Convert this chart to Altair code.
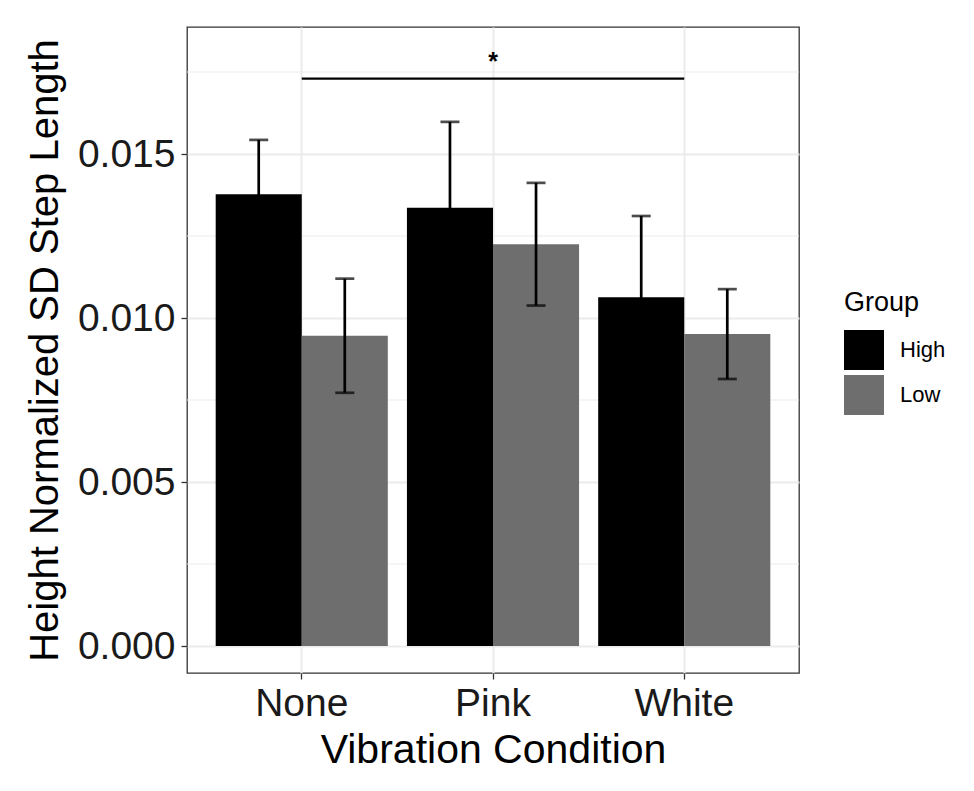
import altair as alt
import pandas as pd

conditions = ["None", "Pink", "White"]
groups = ["High", "Low"]
mean_high = [0.01377, 0.01336, 0.01063]
mean_low = [0.00946, 0.01225, 0.00951]
se_high = [0.00166, 0.00262, 0.00248]
se_low = [0.00174, 0.00187, 0.00137]
minor_grid = [0.0025, 0.0075, 0.0125, 0.0175]
major_ticks = [0.0, 0.005, 0.010, 0.015]
sig_from, sig_to, sig_y, sig_label = "None", "White", 0.0173, "*"

rows = []
for i, c in enumerate(conditions):
    rows.append(dict(cond=c, group="High", mean=mean_high[i], se=se_high[i]))
    rows.append(dict(cond=c, group="Low", mean=mean_low[i], se=se_low[i]))
df = pd.DataFrame(rows)
df["lo"] = df["mean"] - df["se"]
df["hi"] = df["mean"] + df["se"]

df_minor = pd.DataFrame({"y": minor_grid})
df_sig = pd.DataFrame({"cond": [sig_from], "cond_end": [sig_to], "y": [sig_y]})
df_star = pd.DataFrame({"cond": ["Pink"], "y": [sig_y], "t": [sig_label]})

FONT = "Liberation Sans"
GRID = "#ebebeb"

yscale = alt.Scale(domain=[-0.000823, 0.018872], nice=False)
xscale = alt.Scale(domain=conditions, paddingInner=0.1, paddingOuter=0.15)

xaxis = alt.Axis(title="Vibration Condition", labelAngle=0, grid=True, gridColor=GRID,
                 gridWidth=2, bandPosition=0.5, domain=False, tickColor="#333333",
                 tickSize=6, tickWidth=1.3, labelPadding=5, titlePadding=7,
                 labelFontSize=39, titleFontSize=41, labelFont=FONT, titleFont=FONT,
                 labelColor="#1a1a1a", titleColor="#000000", titleFontWeight="normal")
yaxis = alt.Axis(title="Height Normalized SD Step Length", values=major_ticks, format=".3f",
                 grid=True, gridColor=GRID, gridWidth=2, domain=False, tickColor="#333333",
                 tickSize=6, tickWidth=1.3, labelPadding=6, titlePadding=12,
                 labelFontSize=39, titleFontSize=40, labelFont=FONT, titleFont=FONT,
                 labelColor="#1a1a1a", titleColor="#000000", titleFontWeight="normal")

X = alt.X("cond:N", sort=conditions, scale=xscale, axis=xaxis)
XO = alt.XOffset("group:N", sort=groups, scale=alt.Scale(domain=groups, paddingInner=0, paddingOuter=0))

minor = alt.Chart(df_minor).mark_rule(color=GRID, strokeWidth=1).encode(
    y=alt.Y("y:Q", scale=yscale, axis=yaxis)
)

bars = alt.Chart(df).mark_bar().encode(
    x=X, xOffset=XO,
    y=alt.Y("mean:Q", scale=yscale, axis=yaxis),
    y2=alt.datum(0),
    color=alt.Color("group:N", sort=groups,
                    scale=alt.Scale(domain=groups, range=["#000000", "#6e6e6e"]),
                    legend=alt.Legend(title="Group", orient="none", legendX=657, legendY=263,
                                      symbolType="square", symbolSize=1600, symbolStrokeWidth=0,
                                      symbolOpacity=1, titleFontSize=27, labelFontSize=22,
                                      titleFont=FONT, labelFont=FONT, titleColor="#000000",
                                      labelColor="#000000", titleFontWeight="normal",
                                      labelOffset=16, rowPadding=5, titlePadding=13, padding=0))
)

errs = alt.Chart(df).mark_rule(color="#000000", strokeWidth=2.7).encode(
    x=X, xOffset=XO, y=alt.Y("lo:Q", scale=yscale, axis=yaxis), y2="hi:Q"
)
cap_hi = alt.Chart(df).mark_tick(color="#000000", size=19, thickness=2.7).encode(
    x=X, xOffset=XO, y=alt.Y("hi:Q", scale=yscale, axis=yaxis)
)
cap_lo = alt.Chart(df).mark_tick(color="#000000", size=19, thickness=2.7).encode(
    x=X, xOffset=XO, y=alt.Y("lo:Q", scale=yscale, axis=yaxis)
)

sig = alt.Chart(df_sig).mark_rule(color="#000000", strokeWidth=2.2).encode(
    x=alt.X("cond:N", sort=conditions, scale=xscale, axis=xaxis, bandPosition=0.5),
    x2=alt.X2("cond_end:N", bandPosition=0.5),
    y=alt.Y("y:Q", scale=yscale, axis=yaxis)
)
star = alt.Chart(df_star).mark_text(fontSize=25, font=FONT, baseline="alphabetic", dy=-9,
                                    color="#000000", fontWeight="bold").encode(
    x=X, y=alt.Y("y:Q", scale=yscale, axis=yaxis), text="t:N"
)

chart = alt.layer(minor, bars, errs, cap_hi, cap_lo, sig, star).properties(
    width=612, height=646,
    autosize="none",
    padding={"left": 179, "top": 19, "right": 167, "bottom": 105},
).configure_view(stroke="#333333", strokeWidth=1.3)

chart.save("out.html", embed_options={"renderer": "svg", "actions": False})
